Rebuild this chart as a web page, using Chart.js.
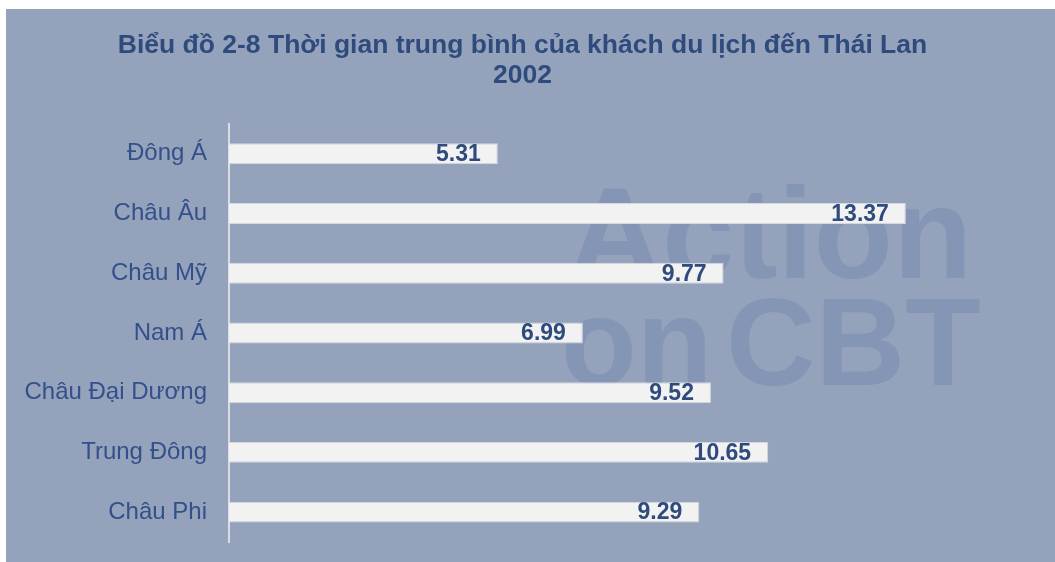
<!DOCTYPE html>
<html>
<head>
<meta charset="utf-8">
<script src="https://cdn.jsdelivr.net/npm/chart.js@4/dist/chart.umd.min.js"></script>
<style>
  html, body { margin: 0; padding: 0; background: #ffffff; }
  #wrap { position: absolute; left: 6px; top: 9px; width: 1049px; height: 553px; background: #94a3bb; }
</style>
</head>
<body>
<div id="wrap"><canvas id="chart_dl" width="1049" height="553"></canvas></div>
<script>
// du lieu bieu do
var regions = ['Đông Á', 'Châu Âu', 'Châu Mỹ', 'Nam Á', 'Châu Đại Dương', 'Trung Đông', 'Châu Phi'];
var avgDays = [5.31, 13.37, 9.77, 6.99, 9.52, 10.65, 9.29];
var titleLines = ['Biểu đồ 2-8 Thời gian trung bình của khách du lịch đến Thái Lan', '2002'];

var txtColor = '#2f4b7d';

// chu mo phia sau (watermark)
var watermark = {
  id: 'watermark',
  beforeDatasetsDraw: function(chart){
    var c = chart.ctx;
    c.save();
    c.fillStyle = 'rgba(118,135,175,0.5)';
    c.textBaseline = 'alphabetic';
    c.textAlign = 'left';
    c.font = 'bold 130px "Liberation Sans", Arial, sans-serif';
    c.fillText('Action', 562, 269);
    c.font = 'bold 124px "Liberation Sans", Arial, sans-serif';
    c.fillText('on', 555, 376);
    c.fillText('CBT', 720, 376);
    c.restore();
  }
};

// nhan gia tri o cuoi thanh
var endLabels = {
  id: 'endLabels',
  afterDatasetsDraw: function(chart){
    var c = chart.ctx;
    var meta = chart.getDatasetMeta(0);
    c.save();
    c.font = 'bold 23px "Liberation Sans", Arial, sans-serif';
    c.fillStyle = txtColor;
    c.textAlign = 'right';
    c.textBaseline = 'middle';
    for(var i = 0;i<meta.data.length;i++){
      var bar = meta.data[i];
      c.fillText(avgDays[i].toFixed(2), bar.x - 17, bar.y + 1);
    }
    c.restore();
  }
};

var ctx = document.getElementById('chart_dl').getContext('2d');
window.chart_dl = new Chart(ctx, {
  type: 'bar',
  data: {
    labels: regions,
    datasets: [{
      data: avgDays,
      backgroundColor: '#f2f2f2',
      borderColor: '#d3d7de',
      borderWidth: 1,
      borderSkipped: 'left',
      barPercentage: 0.35,
      categoryPercentage: 1
    }]
  },
  options: {
    indexAxis: 'y',
    responsive: false,
    animation: false,
    layout: { padding: { top: 0, right: 16, bottom: 20, left: 0 } },
    plugins: {
      legend: { display: false },
      tooltip: { enabled: false },
      title: {
        display: true,
        text: titleLines,
        color: txtColor,
        font: { family: '"Liberation Sans", Arial, sans-serif', size: 26.5, weight: 'bold', lineHeight: 1.15 },
        padding: { top: 21, bottom: 33 }
      }
    },
    scales: {
      x: {
        display: false,
        min: 0,
        max: 16
      },
      y: {
        grid: { display: false, drawTicks: false },
        border: { display: true, color: '#dadde3', width: 2 },
        ticks: {
          color: '#34508a',
          padding: 22,
          font: { family: '"Liberation Sans", Arial, sans-serif', size: 24 }
        },
        afterFit: function(scale){
          scale.width = 223;
          scale.paddingTop = 0;
          scale.paddingBottom = 0;
        }
      }
    }
  },
  plugins: [watermark, endLabels]
});
</script>
</body>
</html>
